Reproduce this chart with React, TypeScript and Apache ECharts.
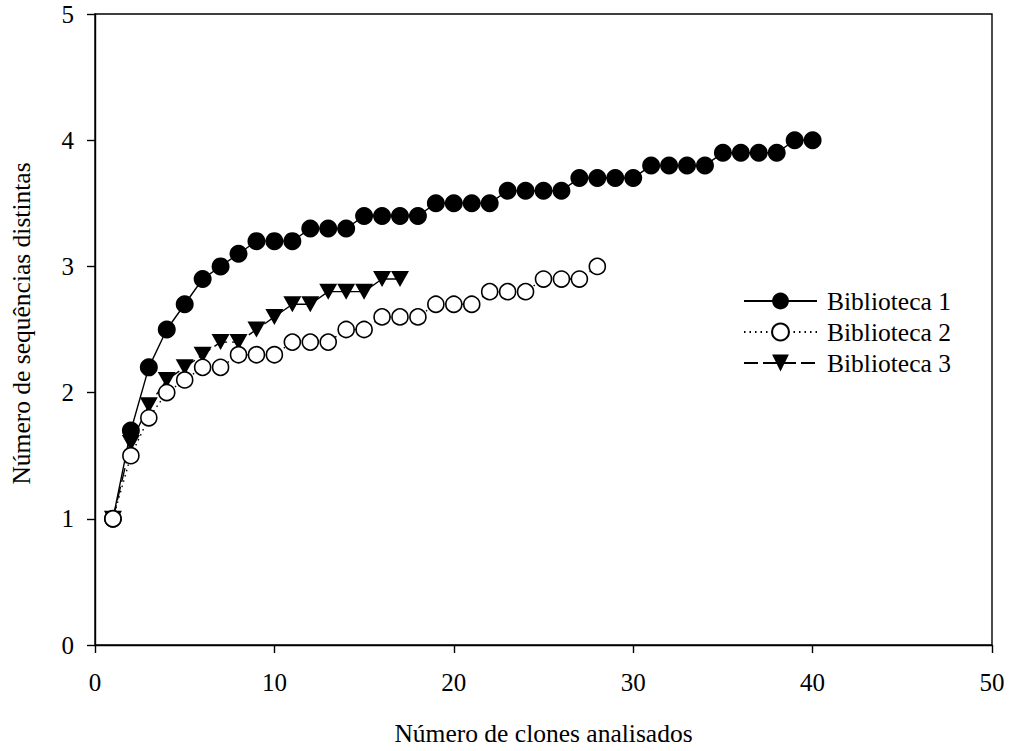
import React, { useEffect, useRef } from "react";
import * as echarts from "echarts";

const clones1 = Array.from({ length: 40 }, (_, i) => i + 1);
const biblioteca1 = [
  1.0, 1.7, 2.2, 2.5, 2.7, 2.9, 3.0, 3.1, 3.2, 3.2,
  3.2, 3.3, 3.3, 3.3, 3.4, 3.4, 3.4, 3.4, 3.5, 3.5,
  3.5, 3.5, 3.6, 3.6, 3.6, 3.6, 3.7, 3.7, 3.7, 3.7,
  3.8, 3.8, 3.8, 3.8, 3.9, 3.9, 3.9, 3.9, 4.0, 4.0,
];
const biblioteca2 = [
  1.0, 1.5, 1.8, 2.0, 2.1, 2.2, 2.2, 2.3, 2.3, 2.3,
  2.4, 2.4, 2.4, 2.5, 2.5, 2.6, 2.6, 2.6, 2.7, 2.7,
  2.7, 2.8, 2.8, 2.8, 2.9, 2.9, 2.9, 3.0,
];
const biblioteca3 = [
  1.0, 1.6, 1.9, 2.1, 2.2, 2.3, 2.4, 2.4, 2.5, 2.6,
  2.7, 2.7, 2.8, 2.8, 2.8, 2.9, 2.9,
];
const seriesNames = ["Biblioteca 1", "Biblioteca 2", "Biblioteca 3"];
const xTitle = "Número de clones analisados";
const yTitle = "Número de sequências distintas";

const pairs = (vals: number[]) => vals.map((v, i) => [clones1[i], v]);

const FONT = "Liberation Serif";
const FS = 25.5;
const TICK_FS = 25;

export default function App() {
  const ref = useRef<HTMLDivElement>(null);
  useEffect(() => {
    if (!ref.current) return;
    const chart = echarts.init(ref.current, null, { renderer: "svg" });
    const axisCommon = {
      axisLine: { show: true, lineStyle: { color: "#000", width: 1.4 } },
      axisTick: { show: true, inside: false, length: 8, lineStyle: { color: "#000", width: 1.4 } },
      splitLine: { show: false },
    };
    chart.setOption({
      animation: false,
      backgroundColor: "#fff",
      grid: {
        left: 92,
        right: 17,
        top: 14,
        bottom: 103,
        show: true,
        borderColor: "#000",
        borderWidth: 1.4,
      },
      legend: {
        left: 738,
        top: 283,
        orient: "vertical",
        itemWidth: 73,
        itemHeight: 21,
        itemGap: 5,
        data: seriesNames,
        textStyle: {
          fontFamily: FONT,
          fontSize: FS,
          lineHeight: 24,
          color: "#000",
          padding: [0, 0, 0, 5],
        },
      },
      xAxis: {
        type: "value",
        min: 0,
        max: 50,
        interval: 10,
        name: xTitle,
        nameLocation: "middle",
        nameGap: 75,
        nameTextStyle: { fontFamily: FONT, fontSize: FS, color: "#000" },
        ...axisCommon,
        axisLabel: { fontFamily: FONT, fontSize: TICK_FS, color: "#000", margin: 25 },
      },
      yAxis: {
        type: "value",
        min: 0,
        max: 5,
        interval: 1,
        name: yTitle,
        nameLocation: "middle",
        nameGap: 61,
        nameTextStyle: { fontFamily: FONT, fontSize: FS, color: "#000", padding: [0, 0, 0, 12] },
        ...axisCommon,
        axisLabel: { fontFamily: FONT, fontSize: TICK_FS, color: "#000", margin: 21 },
      },
      series: [
        {
          name: seriesNames[0],
          type: "line",
          data: pairs(biblioteca1),
          symbol: "circle",
          symbolSize: 18,
          lineStyle: { color: "#000", width: 1.4, type: "solid" },
          itemStyle: { color: "#000", borderColor: "#000", borderWidth: 0 },
          z: 2,
        },
        {
          name: seriesNames[1],
          type: "line",
          data: pairs(biblioteca2),
          symbol: "circle",
          symbolSize: 16,
          showAllSymbol: true,
          lineStyle: { color: "#000", width: 1.4, type: [1.5, 4] },
          itemStyle: { color: "#fff", borderColor: "#000", borderWidth: 1.6 },
          z: 4,
        },
        {
          name: seriesNames[2],
          type: "line",
          data: pairs(biblioteca3),
          symbol: "path://M0,0 L20,0 L10,17 Z",
          symbolSize: [18, 16],
          showAllSymbol: true,
          lineStyle: { color: "#000", width: 1.4, type: [14, 5] },
          itemStyle: { color: "#000", borderColor: "#000", borderWidth: 0 },
          z: 3,
        },
      ],
    });
    return () => chart.dispose();
  }, []);
  return <div ref={ref} style={{ width: 1009, height: 751, position: "absolute", left: 0, top: 0 }} />;
}
